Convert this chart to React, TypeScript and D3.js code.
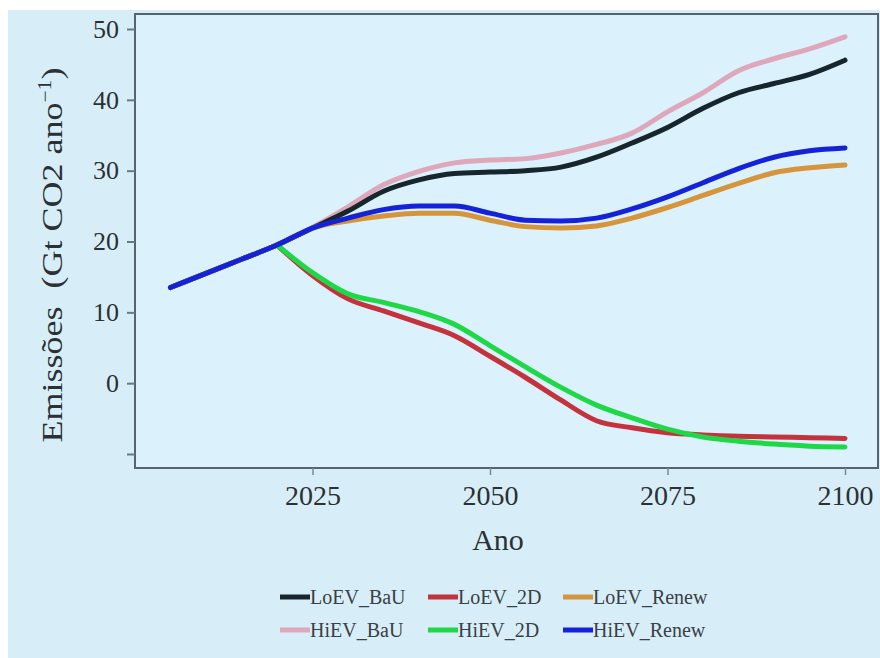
import React, { useRef, useEffect } from 'react';
import * as d3 from 'd3';

const years = [2005, 2010, 2015, 2020, 2025, 2030, 2035, 2040, 2045, 2050, 2055, 2060, 2065, 2070, 2075, 2080, 2085, 2090, 2095, 2100];

const loevBau = [13.5, 15.5, 17.5, 19.5, 21.9, 24.3, 27.1, 28.7, 29.6, 29.8, 30.0, 30.5, 31.9, 33.9, 36.1, 38.8, 41.0, 42.3, 43.6, 45.6];
const hievBau = [13.5, 15.5, 17.5, 19.5, 22.0, 24.9, 28.0, 29.9, 31.1, 31.5, 31.7, 32.5, 33.7, 35.3, 38.3, 41.0, 44.1, 45.8, 47.2, 48.9];
const loev2d = [13.5, 15.5, 17.5, 19.5, 15.2, 11.9, 10.2, 8.5, 6.7, 3.8, 0.8, -2.4, -5.3, -6.3, -7.0, -7.3, -7.5, -7.6, -7.7, -7.8];
const hiev2d = [13.5, 15.5, 17.5, 19.5, 15.6, 12.6, 11.4, 10.1, 8.3, 5.3, 2.3, -0.6, -3.1, -4.9, -6.5, -7.6, -8.2, -8.6, -8.9, -9.0];
const loevRenew = [13.5, 15.5, 17.5, 19.5, 21.9, 22.9, 23.6, 24.0, 24.0, 23.0, 22.1, 21.9, 22.2, 23.3, 24.8, 26.5, 28.2, 29.7, 30.4, 30.8];
const hievRenew = [13.5, 15.5, 17.5, 19.5, 21.9, 23.3, 24.5, 25.0, 25.0, 24.0, 23.0, 22.9, 23.3, 24.6, 26.3, 28.3, 30.3, 31.9, 32.8, 33.2];

const seriesNames = ['LoEV_BaU', 'LoEV_2D', 'LoEV_Renew', 'HiEV_BaU', 'HiEV_2D', 'HiEV_Renew'];
const seriesValues = [loevBau, loev2d, loevRenew, hievBau, hiev2d, hievRenew];
const seriesColors = ['#16262c', '#c3323d', '#d6953b', '#dea7bb', '#1fd848', '#1422d8'];
// drawing order (last on top)
const drawOrder = [3, 0, 2, 1, 4, 5];
// year where the 2D scenarios leave the common path
const splitYear = 2020;

const xTicks = [2025, 2050, 2075, 2100];
const yTicks = [50, 40, 30, 20, 10, 0, -10];

const FONT = "'Liberation Serif', 'Times New Roman', 'DejaVu Serif', serif";

export default function App() {
  const ref = useRef<SVGSVGElement | null>(null);

  useEffect(() => {
    if (!ref.current) return;
    const svg = d3.select(ref.current);
    svg.selectAll('*').remove();

    const W = 880, H = 658;
    const frame = { left: 135, top: 14, right: 878, bottom: 468 };

    const x = d3.scaleLinear().domain([2000, 2100]).range([frame.left, 845]);
    const y = d3.scaleLinear().domain([-10, 50]).range([454, 29]);

    // page background
    svg.append('rect').attr('width', W).attr('height', H).attr('fill', '#ffffff');
    svg.append('rect').attr('x', 8).attr('y', 10).attr('width', W - 8).attr('height', H - 10).attr('fill', '#d7eef9');

    // plot area
    svg.append('rect')
      .attr('x', frame.left).attr('y', frame.top)
      .attr('width', frame.right - frame.left).attr('height', frame.bottom - frame.top)
      .attr('fill', '#dbf1fb')
      .attr('stroke', '#56646e').attr('stroke-width', 2);

    // y axis
    const yAxis = d3.axisLeft(y)
      .tickValues(yTicks)
      .tickSize(8)
      .tickPadding(8)
      .tickFormat(d => (d === -10 ? '' : String(d)));
    const gy = svg.append('g').attr('transform', `translate(${frame.left},0)`).call(yAxis);
    gy.attr('font-family', null).attr('font-size', null);
    gy.select('.domain').remove();
    gy.selectAll('line').attr('stroke', '#6a7880').attr('stroke-width', 2);
    gy.selectAll('text')
      .attr('fill', '#2b3033')
      .attr('font-family', FONT)
      .attr('font-size', 26);

    // x axis
    const xAxis = d3.axisBottom(x)
      .tickValues(xTicks)
      .tickSize(7)
      .tickPadding(10)
      .tickFormat(d => String(d));
    const gx = svg.append('g').attr('transform', `translate(0,${frame.bottom})`).call(xAxis);
    gx.attr('font-family', null).attr('font-size', null);
    gx.select('.domain').remove();
    gx.selectAll('line').attr('stroke', '#7a8890').attr('stroke-width', 1.5);
    gx.selectAll('text')
      .attr('fill', '#2b3033')
      .attr('font-family', FONT)
      .attr('font-size', 28);

    // lines
    drawOrder.forEach(k => {
      const is2d = seriesNames[k].endsWith('2D');
      const line = d3.line<number>()
        .defined((_, i) => !is2d || years[i] >= splitYear)
        .x((_, i) => x(years[i]))
        .y(d => y(d))
        .curve(d3.curveMonotoneX);
      svg.append('path')
        .datum(seriesValues[k])
        .attr('fill', 'none')
        .attr('stroke', seriesColors[k])
        .attr('stroke-width', 5)
        .attr('stroke-linecap', 'round')
        .attr('stroke-linejoin', 'round')
        .attr('d', line);
    });

    // axis titles
    svg.append('text')
      .attr('x', 498).attr('y', 550)
      .attr('text-anchor', 'middle')
      .attr('fill', '#2b3033')
      .attr('font-family', FONT)
      .attr('font-size', 30)
      .text('Ano');

    const yt = svg.append('text')
      .attr('transform', 'translate(62,255) rotate(-90) scale(1.2,1)')
      .attr('text-anchor', 'middle')
      .attr('fill', '#2b3033')
      .attr('font-family', FONT)
      .attr('font-size', 30)
      .style('white-space', 'pre');
    yt.append('tspan').text('Emissões  (Gt CO2 ano');
    yt.append('tspan').attr('dy', -11).attr('font-size', 18).text('−1');
    yt.append('tspan').attr('dy', 11).text(')');

    // legend
    const legX = [280, 428, 563];
    const legY = [597, 630];
    seriesNames.forEach((name, i) => {
      const col = i % 3;
      const row = Math.floor(i / 3);
      const g = svg.append('g').attr('transform', `translate(${legX[col]},${legY[row]})`);
      g.append('line')
        .attr('x1', 0).attr('x2', 30).attr('y1', 0).attr('y2', 0)
        .attr('stroke', seriesColors[i]).attr('stroke-width', 5);
      g.append('text')
        .attr('x', 30).attr('y', 7)
        .attr('fill', '#3a4044')
        .attr('font-family', FONT)
        .attr('font-size', 20)
        .text(name);
    });
  }, []);

  return (
    <>
      <style>{'body{margin:0;overflow:hidden}'}</style>
      <svg ref={ref} width={880} height={658} style={{ display: 'block' }} />
    </>
  );
}
